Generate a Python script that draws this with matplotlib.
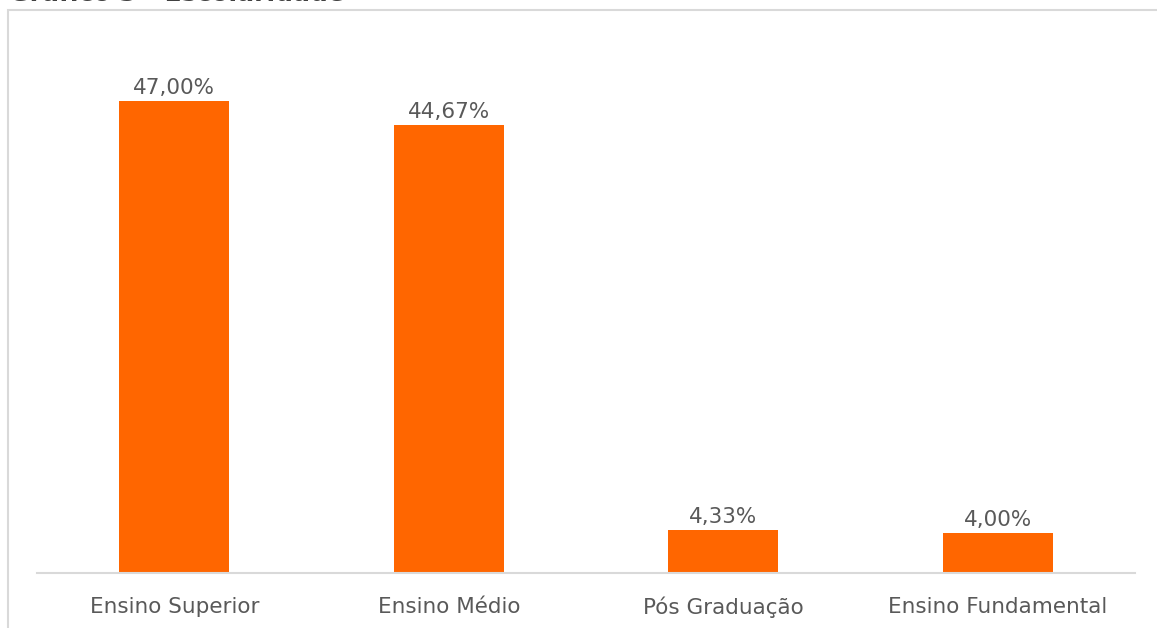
import matplotlib.pyplot as plt
from matplotlib.patches import Rectangle

# --- data ---
categorias = ['Ensino Superior', 'Ensino Médio', 'Pós Graduação', 'Ensino Fundamental']
valores = [47.00, 44.67, 4.33, 4.00]
rotulos = ['47,00%', '44,67%', '4,33%', '4,00%']

cor_barra = '#ff6600'
cor_texto = '#595959'
cor_linha = '#d9d9d9'

plt.rcParams['font.family'] = ['DejaVu Sans']

fig = plt.figure(figsize=(11.57, 6.28), dpi=100)

# outer chart frame (partly cut off, like the screenshot)
frame = Rectangle((8 / 1157, -0.1), 1.2, 1.1 - 10 / 628,
                  transform=fig.transFigure, fill=False,
                  edgecolor=cor_linha, linewidth=1.5)
fig.patches.append(frame)

# title, cut off at the top edge as in the screenshot
fig.text(0.008, 1.009, 'Gráfico 3 - Escolaridade', fontsize=18, fontweight='bold',
         color='#404040', va='center', ha='left')

ax = fig.add_axes([37 / 1157, 55 / 628, 1098 / 1157, 502 / 628])
x = range(len(categorias))
bars = ax.bar(x, valores, width=0.4, color=cor_barra, zorder=2)

for b, txt in zip(bars, rotulos):
    ax.text(b.get_x() + b.get_width() / 2, b.get_height() + 0.3, txt,
            ha='center', va='bottom', fontsize=15.5, color=cor_texto)

ax.set_xlim(-0.5, 3.5)
ax.set_ylim(0, 50)
ax.set_xticks(list(x))
ax.set_xticklabels(categorias, fontsize=15.5, color=cor_texto)
ax.tick_params(axis='x', length=0, pad=17)
ax.set_yticks([])
for s in ['top', 'right', 'left']:
    ax.spines[s].set_visible(False)
ax.spines['bottom'].set_color(cor_linha)
ax.spines['bottom'].set_linewidth(1.5)

fig.savefig('out.png', dpi=100)
